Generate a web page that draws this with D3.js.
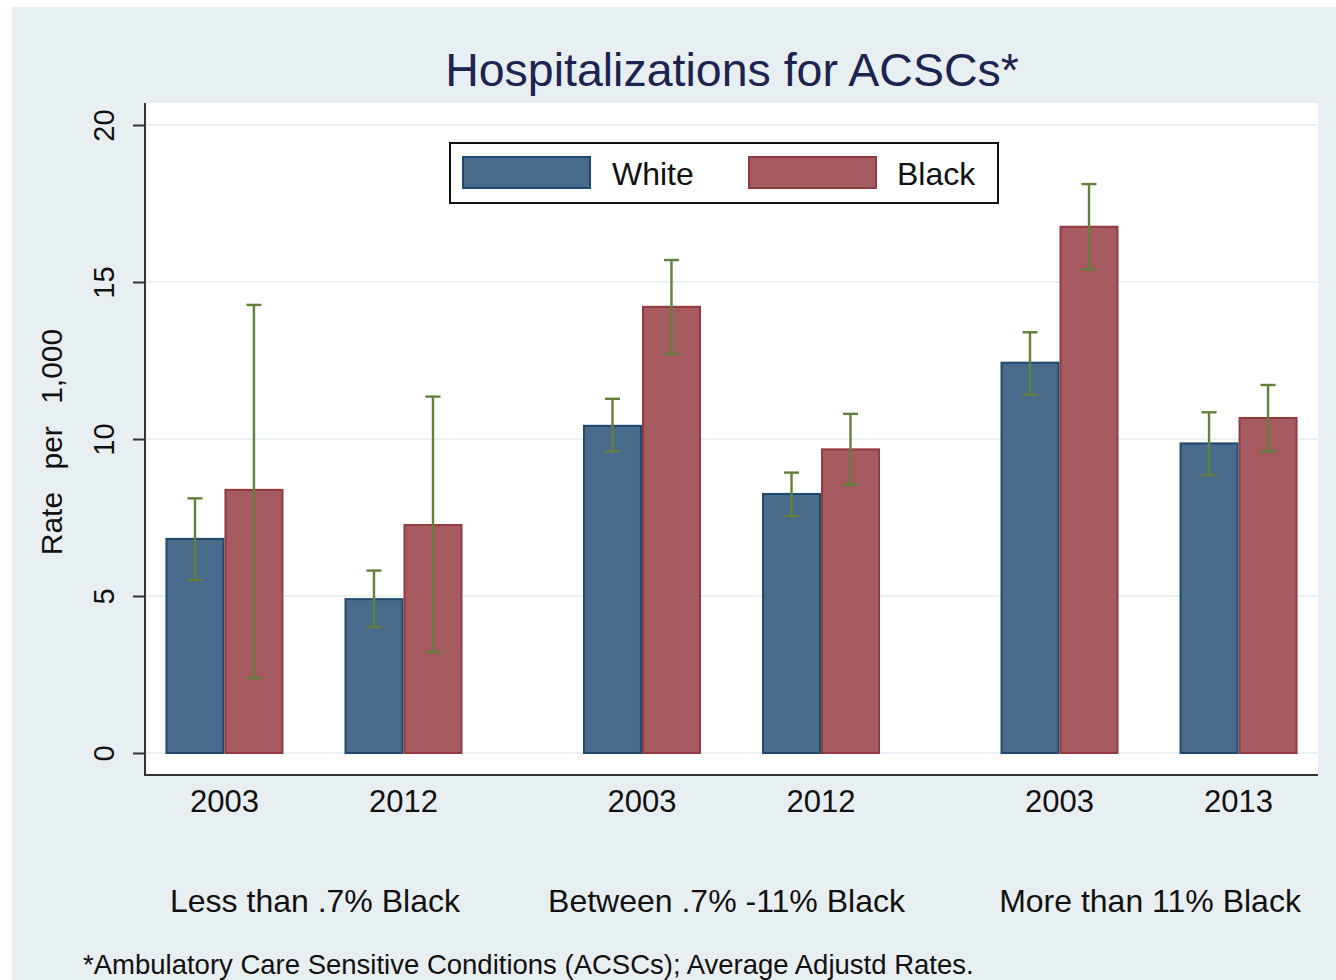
<!DOCTYPE html>
<html>
<head>
<meta charset="utf-8">
<script src="https://cdn.jsdelivr.net/npm/d3@7"></script>
<style>
  html, body { margin: 0; padding: 0; background: #ffffff; }
  svg { display: block; }
  text { font-family: "Liberation Sans", Arial, sans-serif; }
</style>
</head>
<body>
<div id="chart"></div>
<script>
// Hospitalization rates for ambulatory care sensitive conditions,
// by county share of Black residents, period and race.
const groups = ["Less than .7% Black", "Between .7% -11% Black", "More than 11% Black"];
const years = [["2003", "2012"], ["2003", "2012"], ["2003", "2013"]];
const races = ["White", "Black"];

const whiteRate = [6.82, 4.90, 10.42, 8.25, 12.43, 9.86];
const whiteLow  = [5.51, 4.01, 9.61, 7.55, 11.41, 8.85];
const whiteHigh = [8.11, 5.81, 11.28, 8.93, 13.40, 10.85];

const blackRate = [8.38, 7.26, 14.21, 9.67, 16.76, 10.67];
const blackLow  = [2.39, 3.22, 12.71, 8.54, 15.40, 9.61];
const blackHigh = [14.27, 11.35, 15.70, 10.80, 18.12, 11.72];

const yTicks = [0, 5, 10, 15, 20];

const W = 1336, H = 980;
const plot = { left: 145, right: 1318, top: 103, bottom: 775 };

const colors = {
  White: { fill: "#486a8b", stroke: "#21496f" },
  Black: { fill: "#a55b5f", stroke: "#923a42" }
};
const errColor = "#62803c";

const svg = d3.select("#chart").append("svg").attr("width", W).attr("height", H);

// outer graph region
svg.append("rect").attr("x", 12).attr("y", 7).attr("width", W - 12).attr("height", H - 7)
  .attr("fill", "#e8eff2");

// plot region
svg.append("rect").attr("x", plot.left).attr("y", plot.top)
  .attr("width", plot.right - plot.left).attr("height", plot.bottom - plot.top)
  .attr("fill", "#ffffff");

const y = d3.scaleLinear().domain([0, 20]).range([753, 125]);

const xGroup = d3.scaleBand().domain(d3.range(groups.length))
  .range([plot.left, plot.right]).paddingInner(0.2886).paddingOuter(0.049);
const xYear = d3.scaleBand().domain([0, 1])
  .range([0, xGroup.bandwidth()]).paddingInner(0.341).paddingOuter(0);
const xRace = d3.scaleBand().domain(races).range([0, xYear.bandwidth()]).padding(0);

// gridlines
svg.append("g").selectAll("line").data(yTicks).join("line")
  .attr("x1", plot.left).attr("x2", plot.right)
  .attr("y1", d => y(d)).attr("y2", d => y(d))
  .attr("stroke", "#e3ecf0").attr("stroke-width", 1.6);

// flatten records
const records = [];
groups.forEach((g, gi) => {
  [0, 1].forEach(yi => {
    const k = gi * 2 + yi;
    records.push({ gi, yi, race: "White", v: whiteRate[k], lo: whiteLow[k], hi: whiteHigh[k] });
    records.push({ gi, yi, race: "Black", v: blackRate[k], lo: blackLow[k], hi: blackHigh[k] });
  });
});
const barX = d => xGroup(d.gi) + xYear(d.yi) + xRace(d.race);

// bars
svg.append("g").selectAll("rect").data(records).join("rect")
  .attr("x", d => barX(d) + 1)
  .attr("y", d => y(d.v))
  .attr("width", xRace.bandwidth() - 2)
  .attr("height", d => y(0) - y(d.v))
  .attr("fill", d => colors[d.race].fill)
  .attr("stroke", d => colors[d.race].stroke)
  .attr("stroke-width", 2);

// error bars
const eb = svg.append("g").attr("stroke", errColor).attr("stroke-width", 2.4);
records.forEach(d => {
  const cx = barX(d) + xRace.bandwidth() / 2;
  eb.append("line").attr("x1", cx).attr("x2", cx).attr("y1", y(d.lo)).attr("y2", y(d.hi));
  [d.lo, d.hi].forEach(v => {
    eb.append("line").attr("x1", cx - 7.5).attr("x2", cx + 7.5).attr("y1", y(v)).attr("y2", y(v));
  });
});

// y axis
const yAxis = svg.append("g").attr("transform", `translate(${plot.left},0)`)
  .call(d3.axisLeft(y).tickValues(yTicks).tickSize(12).tickSizeOuter(0));
yAxis.select(".domain").remove();
yAxis.selectAll(".tick line").attr("stroke", "#333").attr("stroke-width", 2);
yAxis.selectAll(".tick text")
  .attr("transform", "rotate(-90)")
  .attr("x", 0).attr("y", -31).attr("dy", 0)
  .attr("text-anchor", "middle")
  .attr("font-size", 29).attr("fill", "#111");

// axis lines
svg.append("line").attr("x1", plot.left).attr("x2", plot.left)
  .attr("y1", plot.top).attr("y2", plot.bottom + 1)
  .attr("stroke", "#333").attr("stroke-width", 2);
svg.append("line").attr("x1", plot.left).attr("x2", plot.right)
  .attr("y1", plot.bottom).attr("y2", plot.bottom)
  .attr("stroke", "#333").attr("stroke-width", 2);

// year labels
const yearLabels = [];
groups.forEach((g, gi) => [0, 1].forEach(yi => yearLabels.push({ gi, yi, t: years[gi][yi] })));
svg.append("g").selectAll("text").data(yearLabels).join("text")
  .attr("x", d => xGroup(d.gi) + xYear(d.yi) + xYear.bandwidth() / 2)
  .attr("y", 812)
  .attr("text-anchor", "middle").attr("font-size", 31).attr("fill", "#111")
  .text(d => d.t);

// group labels
svg.append("g").selectAll("text").data(groups).join("text")
  .attr("x", (d, i) => xGroup(i) + xGroup.bandwidth() / 2 + (i === 1 ? -5 : 1))
  .attr("y", 912)
  .attr("text-anchor", "middle").attr("font-size", 32).attr("fill", "#111")
  .text(d => d);

// y axis title
svg.append("text")
  .attr("transform", "translate(62,442) rotate(-90)")
  .attr("text-anchor", "middle").attr("font-size", 30).attr("fill", "#111")
  .attr("word-spacing", 14)
  .text("Rate per 1,000");

// title
svg.append("text").attr("x", 732).attr("y", 86)
  .attr("text-anchor", "middle").attr("font-size", 46.5).attr("fill", "#1b2550")
  .text("Hospitalizations for ACSCs*");

// legend
const lg = svg.append("g");
lg.append("rect").attr("x", 450).attr("y", 143).attr("width", 548).attr("height", 60)
  .attr("fill", "#ffffff").attr("stroke", "#111").attr("stroke-width", 2);
const legendItems = [
  { race: "White", sx: 463, tx: 612 },
  { race: "Black", sx: 749, tx: 897 }
];
legendItems.forEach(it => {
  lg.append("rect").attr("x", it.sx).attr("y", 157).attr("width", 127).attr("height", 31)
    .attr("fill", colors[it.race].fill).attr("stroke", colors[it.race].stroke).attr("stroke-width", 2);
  lg.append("text").attr("x", it.tx).attr("y", 185)
    .attr("font-size", 32).attr("fill", "#111").text(it.race);
});

// footnote
svg.append("text").attr("x", 83).attr("y", 974)
  .attr("font-size", 27.5).attr("fill", "#111")
  .text("*Ambulatory Care Sensitive Conditions (ACSCs); Average Adjustd Rates.");
</script>
</body>
</html>
